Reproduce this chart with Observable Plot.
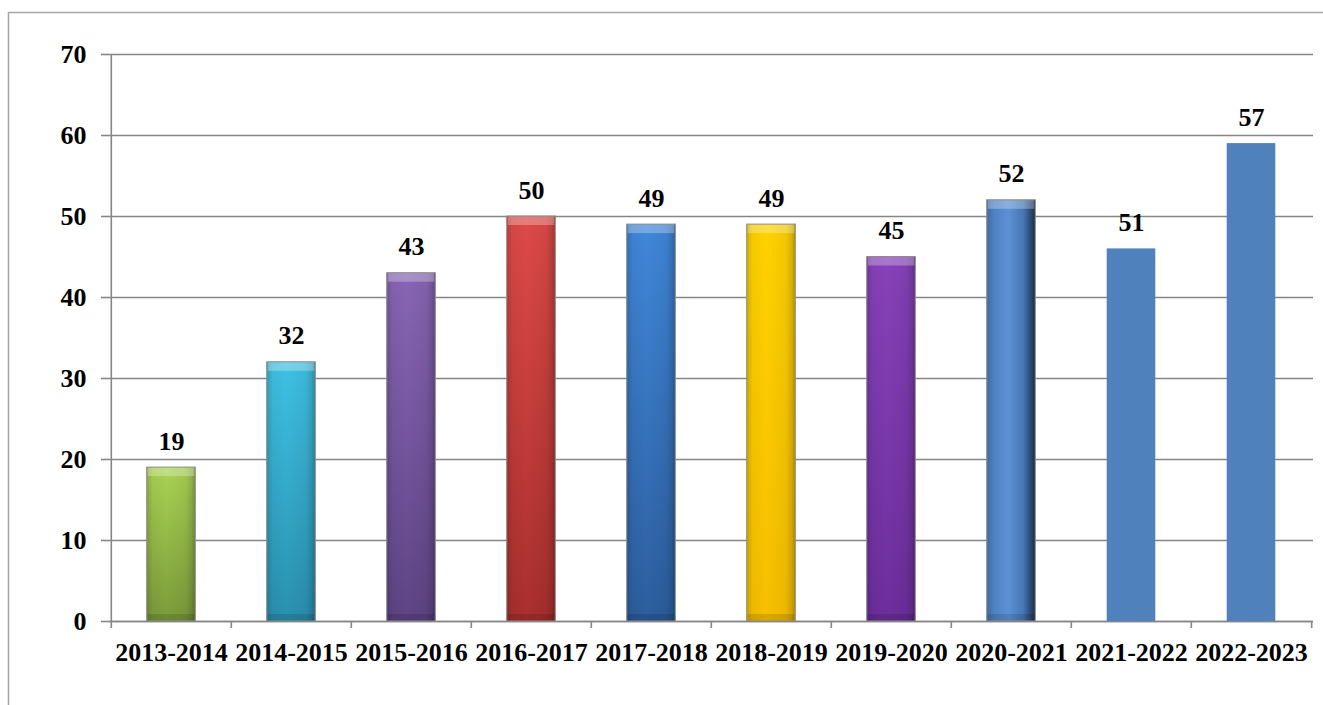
<!DOCTYPE html>
<html>
<head>
<meta charset="utf-8">
<script src="https://cdn.jsdelivr.net/npm/d3@7"></script>
<script src="https://cdn.jsdelivr.net/npm/@observablehq/plot@0.6"></script>
<style>
  html, body { margin: 0; padding: 0; background: #fff; }
  #chart { width: 1323px; height: 705px; overflow: hidden; }
</style>
</head>
<body>
<div id="chart"></div>
<script>
// ---- data ----
const years = ["2013-2014","2014-2015","2015-2016","2016-2017","2017-2018","2018-2019","2019-2020","2020-2021","2021-2022","2022-2023"];
const barValues = [19, 32, 43, 50, 49, 49, 45, 52, 46, 59];
const labelValues = [19, 32, 43, 50, 49, 49, 45, 52, 51, 57];
const yTicks = [0, 10, 20, 30, 40, 50, 60, 70];

// ---- style palette (top colour, bottom colour) ----
const palette = [
  ["#aad353", "#7b9a3a"],
  ["#3fc1e3", "#2a90b0"],
  ["#8866b5", "#5e4484"],
  ["#de4a47", "#a82f2e"],
  ["#4088da", "#2c5e9e"],
  ["#ffd200", "#f7bf00"],
  ["#8742ba", "#6c2e9c"],
  null,
  null,
  null
];

const table = years.map((year, i) => ({year, bar: barValues[i], label: labelValues[i], i}));

const W = 1323, H = 705;
const mL = 109, mR = 10, mT = 54, mB = 84;
const bw = (W - mL - mR) / years.length;
const inset = (bw - 49) / 2;
const font = "'Liberation Serif', 'Times New Roman', serif";
const grid = "#868686";

const fillRange = years.map((_, i) => i < 8 ? `url(#g${i})` : "#4f81bd");

const plot = Plot.plot({
  width: W, height: H,
  marginLeft: mL, marginRight: mR, marginTop: mT, marginBottom: mB,
  style: {fontFamily: font, fontWeight: "bold", fontSize: "26px", color: "black", background: "white"},
  x: {type: "band", domain: years, padding: 0},
  y: {domain: [0, 70]},
  color: {type: "ordinal", domain: years, range: fillRange},
  marks: [
    Plot.gridY(yTicks, {stroke: grid, strokeOpacity: 1, strokeWidth: 1.6}),
    Plot.axisY({ticks: yTicks, tickSize: 8, tickPadding: 15, stroke: grid, strokeWidth: 1.6, fill: "black",
      fontSize: 26, fontWeight: "bold", fontFamily: font, label: null}),
    Plot.axisX({tickSize: 0, tickPadding: 21, fill: "black", fontSize: 26, fontWeight: "bold", fontFamily: font, label: null}),
    // y axis line
    Plot.ruleX([years[0]], {dx: -bw / 2, y1: 0, y2: 70, stroke: grid, strokeWidth: 1.6}),
    // x boundary ticks
    Plot.ruleX(years, {dx: -bw / 2, y1: 0, y2: 0, insetBottom: -7, stroke: grid, strokeWidth: 1.6}),
    Plot.ruleX([years[years.length - 1]], {dx: bw / 2, y1: 0, y2: 0, insetBottom: -7, stroke: grid, strokeWidth: 1.6}),
    // baseline
    Plot.ruleY([0], {stroke: grid, strokeWidth: 1.6}),
    // bars
    Plot.barY(table, {x: "year", y: "bar", fill: "year", insetLeft: inset, insetRight: inset}),
    // side shading for bevelled bars
    Plot.barY(table, {filter: d => d.i < 7, x: "year", y: "bar", fill: "url(#hshade)", insetLeft: inset, insetRight: inset}),
    // top bevel highlight
    Plot.barY(table, {filter: d => d.i < 8, x: "year", y1: "bar", y2: "bar", insetBottom: -9, fill: "white", fillOpacity: 0.28, insetLeft: inset + 1, insetRight: inset + 1}),
    // bottom bevel shade
    Plot.barY(table, {filter: d => d.i < 8, x: "year", y1: 0, y2: 0, insetTop: -7, fill: "black", fillOpacity: 0.12, insetLeft: inset + 1, insetRight: inset + 1}),
    // outline
    Plot.barY(table, {filter: d => d.i < 8, x: "year", y: "bar", fill: "none", stroke: "#8c8c8c", strokeWidth: 1, insetLeft: inset, insetRight: inset}),
    // value labels
    Plot.text(table, {x: "year", y: "bar", text: d => String(d.label), dy: -18, lineAnchor: "bottom",
      fontSize: 26, fontWeight: "bold", fontFamily: font, fill: "black"})
  ]
});

// gradient definitions
const svg = d3.select(plot);
const defs = svg.insert("defs", ":first-child");
palette.forEach((c, i) => {
  if (!c) return;
  const g = defs.append("linearGradient").attr("id", `g${i}`).attr("x1", 0).attr("y1", 0).attr("x2", 0).attr("y2", 1);
  g.append("stop").attr("offset", 0).attr("stop-color", c[0]);
  g.append("stop").attr("offset", 1).attr("stop-color", c[1]);
});
{
  const g = defs.append("linearGradient").attr("id", "g7").attr("x1", 0).attr("y1", 0).attr("x2", 1).attr("y2", 0);
  [[0, "#3f6ba3"], [0.15, "#4f82c2"], [0.45, "#5b91d3"], [0.75, "#4677b5"], [0.9, "#2c4c75"], [1, "#1b2d47"]]
    .forEach(([o, c]) => g.append("stop").attr("offset", o).attr("stop-color", c));
}
{
  const g = defs.append("linearGradient").attr("id", "hshade").attr("x1", 0).attr("y1", 0).attr("x2", 1).attr("y2", 0);
  [[0, 0.18], [0.12, 0.04], [0.4, 0], [0.8, 0.05], [0.92, 0.15], [1, 0.3]]
    .forEach(([o, a]) => g.append("stop").attr("offset", o).attr("stop-color", "black").attr("stop-opacity", a));
}
// outer chart-area border
svg.insert("rect", "defs + *").attr("x", 8.5).attr("y", 12.5).attr("width", 1400).attr("height", 800)
  .attr("fill", "none").attr("stroke", "#a6a6a6").attr("stroke-width", 1.5);

document.getElementById("chart").appendChild(plot);
</script>
</body>
</html>
